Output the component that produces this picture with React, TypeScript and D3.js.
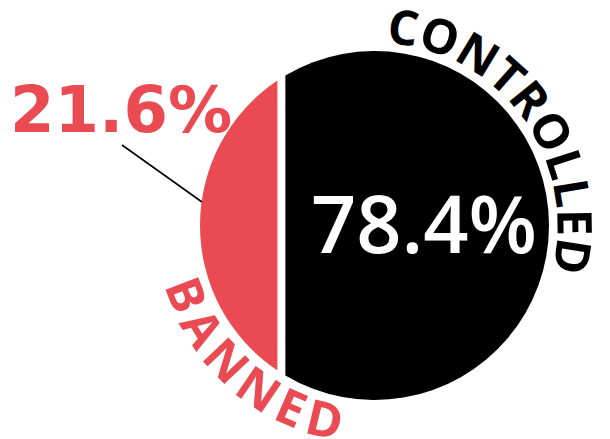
import React from "react";
import * as d3 from "d3";

const categories = ["BANNED", "CONTROLLED"];
const values = [21.6, 78.4];
const colors = ["#EA4A51", "#000000"];

const W = 610;
const H = 439;
const cx = 374.5;
const cy = 225.5;
const R = 174.5;

const deg = (a: number) => ((a - 90) * Math.PI) / 180;

export default function App() {
  const x = d3.scaleLinear().domain([0, 100]).range([cx - R, cx + R]);
  const split = x(values[0]);
  const redEdge = split + 2;
  const blackEdge = split + 10;

  const half = (c: number) => Math.sqrt(R * R - (c - cx) * (c - cx));
  const hr = half(redEdge);
  const hb = half(blackEdge);
  const redPath = `M${redEdge},${cy - hr}A${R},${R} 0 0 0 ${redEdge},${cy + hr}Z`;
  const blackPath = `M${blackEdge},${cy - hb}A${R},${R} 0 1 1 ${blackEdge},${cy + hb}Z`;

  const pc = d3.path();
  pc.arc(cx, cy, 183, deg(3.5), deg(130), false);
  const pb = d3.path();
  pb.arc(cx, cy, 218, deg(254), deg(150), true);

  const fmt = (v: number) => d3.format(".1f")(v) + "%";

  return (
    <svg width={W} height={H} style={{ position: "absolute", left: 0, top: 0 }}>
      <defs>
        <path id="ctrlPath" d={pc.toString()} />
        <path id="banPath" d={pb.toString()} />
      </defs>
      <path d={redPath} fill={colors[0]} />
      <path d={blackPath} fill={colors[1]} />
      <line x1={122} y1={145} x2={202} y2={202} stroke="#000" strokeWidth={1.6} />
      <text
        x={10}
        y={131.5}
        fill={colors[0]}
        fontFamily="DejaVu Sans"
        fontWeight="bold"
        fontSize={64}
      >
        {fmt(values[0])}
      </text>
      <text
        x={311}
        y={253}
        fill="#fff"
        fontFamily="Open Sans"
        fontWeight={600}
        fontSize={80}
        textLength={226}
        lengthAdjust="spacingAndGlyphs"
      >
        {fmt(values[1])}
      </text>
      <text
        fill={colors[1]}
        fontFamily="Open Sans"
        fontWeight={700}
        fontSize={48}
        letterSpacing={0}
      >
        <textPath href="#ctrlPath" startOffset={0}>
          {categories[1]}
        </textPath>
      </text>
      <text
        fill={colors[0]}
        fontFamily="Open Sans"
        fontWeight={700}
        fontSize={49}
        letterSpacing={7}
      >
        <textPath href="#banPath" startOffset={0}>
          {categories[0]}
        </textPath>
      </text>
    </svg>
  );
}
